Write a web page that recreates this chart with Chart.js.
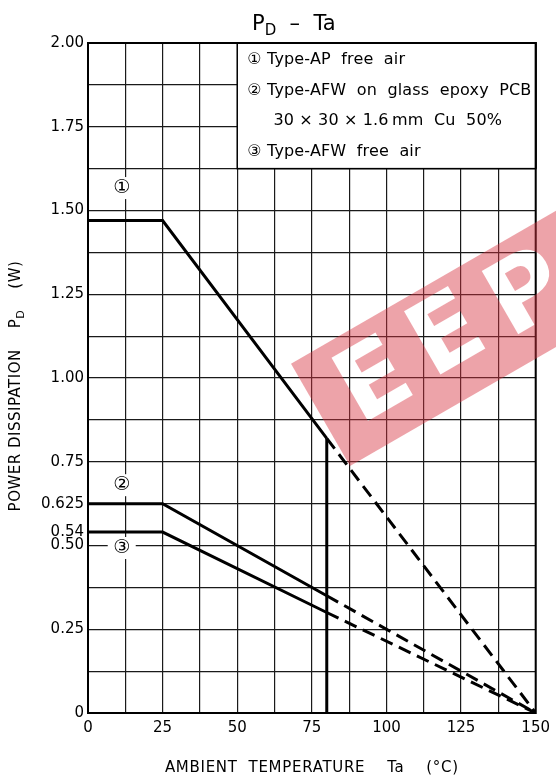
<!DOCTYPE html>
<html>
<head>
<meta charset="utf-8">
<script src="https://cdn.jsdelivr.net/npm/chart.js@4.4.1/dist/chart.umd.min.js"></script>
<style>
  html, body { margin: 0; padding: 0; background: #fff; }
</style>
</head>
<body>
<canvas id="pdChart" width="556" height="778"></canvas>
<script>
const FONT = "'DejaVu Sans', Verdana, sans-serif";

// Dados (Ta em °C, PD em W)
const ambientTemp = [0, 25, 80, 150];
const pdTypeAP = [1.47, 1.47, 0.82, 0];
const pdTypeAFWpcb = [0.625, 0.625, 0.35, 0];
const pdTypeAFWair = [0.54, 0.54, 0.30, 0];
const limitTemp = [80, 80];
const limitPd = [0, 0.82];

// Rótulos dos eixos
const yTickLabels = [0, 0.25, 0.5, 0.54, 0.625, 0.75, 1, 1.25, 1.5, 1.75, 2];
const xTickLabels = [0, 25, 50, 75, 100, 125, 150];
const legendLines = [
  "\u2460 Type-AP  free  air",
  "\u2461 Type-AFW  on  glass  epoxy  PCB",
  "     30 \u00d7 30 \u00d7 1.6\u2009mm  Cu  50%",
  "\u2462 Type-AFW  free  air"
];
const curveMarks = ["\u2460", "\u2461", "\u2462"];
const curveMarkAt = [[11.3, 1.567], [11.3, 0.68], [11.3, 0.4925]];

// Linhas de grade: a cada 12.5 °C e 0.125 W
const xGrid = [];
for (let i = 0; i <= 12; i++) xGrid.push(i * 12.5);
const yGrid = [];
for (let i = 0; i <= 16; i++) yGrid.push(i * 0.125);
yGrid.push(0.54);
yGrid.sort((a, b) => a - b);

function formatY(v) {
  if (v === 0) return "0";
  if (v === 0.625 || v === 0.54) return String(v);
  return v.toFixed(2);
}

function curve(values) {
  return ambientTemp.map((t, i) => ({ x: t, y: values[i] }));
}

const dashAfterLimit = {
  borderDash: (c) => (c.p0DataIndex >= 2 ? [13, 7] : undefined)
};

// Plugin para título, legenda, marcas e marca d'água
const decorPlugin = {
  id: "decor",
  afterDatasetsDraw(chart) {
    const ctx = chart.ctx;
    const area = chart.chartArea;
    const xs = chart.scales.x;
    const ys = chart.scales.y;

    // moldura
    ctx.save();
    ctx.strokeStyle = "#000";
    ctx.lineWidth = 2;
    ctx.strokeRect(area.left, area.top, area.right - area.left, area.bottom - area.top);

    // caixa da legenda
    const bx = xs.getPixelForValue(50);
    const by = ys.getPixelForValue(1.625);
    ctx.fillStyle = "#fff";
    ctx.fillRect(bx, area.top, area.right - bx, by - area.top);
    ctx.lineWidth = 1.5;
    ctx.strokeRect(bx, area.top, area.right - bx, by - area.top);
    ctx.lineWidth = 2;
    ctx.beginPath();
    ctx.moveTo(bx, area.top);
    ctx.lineTo(area.right, area.top);
    ctx.lineTo(area.right, by);
    ctx.stroke();

    ctx.fillStyle = "#000";
    ctx.font = "16px " + FONT;
    ctx.letterSpacing = "0.15px";
    ctx.textAlign = "left";
    ctx.textBaseline = "middle";
    legendLines.forEach((txt, i) => {
      ctx.fillText(txt, bx + 10, area.top + 17 + i * 30.5);
    });
    ctx.letterSpacing = "0px";

    // marcas das curvas
    ctx.font = "19px " + FONT;
    ctx.textAlign = "center";
    curveMarks.forEach((m, i) => {
      const px = xs.getPixelForValue(curveMarkAt[i][0]);
      const py = ys.getPixelForValue(curveMarkAt[i][1]);
      ctx.fillStyle = "#fff";
      ctx.fillRect(px - 14, py - 11, 28, 22);
      ctx.fillStyle = "#000";
      ctx.fillText(m, px, py);
    });
    ctx.restore();
  },
  afterDraw(chart) {
    const ctx = chart.ctx;
    const area = chart.chartArea;
    ctx.save();
    ctx.fillStyle = "#000";
    ctx.textBaseline = "alphabetic";

    // título
    let x = 252, y = 30;
    ctx.font = "21px " + FONT;
    ctx.textAlign = "left";
    ctx.fillText("P", x, y);
    x += ctx.measureText("P").width;
    ctx.font = "15px " + FONT;
    ctx.fillText("D", x, y + 5);
    x += ctx.measureText("D").width;
    ctx.font = "21px " + FONT;
    ctx.fillText("  \u2013  Ta", x, y);

    // título do eixo x
    ctx.font = "15px " + FONT;
    ctx.letterSpacing = "0.7px";
    ctx.textAlign = "center";
    ctx.fillText("AMBIENT  TEMPERATURE    Ta    (\u00b0C)", (area.left + area.right) / 2, 772);

    // título do eixo y
    ctx.letterSpacing = "0.5px";
    ctx.translate(20, 386);
    ctx.rotate(-Math.PI / 2);
    ctx.textAlign = "left";
    const p1 = "POWER DISSIPATION    P";
    const p3 = "    (W)";
    ctx.font = "15px " + FONT;
    const w1 = ctx.measureText(p1).width;
    const w3 = ctx.measureText(p3).width;
    ctx.font = "11px " + FONT;
    const w2 = ctx.measureText("D").width;
    let sx = -(w1 + w2 + w3) / 2;
    ctx.font = "15px " + FONT;
    ctx.fillText(p1, sx, 0);
    sx += w1;
    ctx.font = "11px " + FONT;
    ctx.fillText("D", sx, 4);
    sx += w2;
    ctx.font = "15px " + FONT;
    ctx.fillText(p3, sx, 0);
    ctx.restore();

    // marca d'água
    const wm = document.createElement("canvas");
    wm.width = chart.width;
    wm.height = chart.height;
    const w = wm.getContext("2d");
    w.translate(350, 466);
    w.rotate(-Math.PI / 6);
    w.fillStyle = "rgba(215, 50, 65, 0.45)";
    w.fillRect(0, -118, 420, 118);
    w.globalCompositeOperation = "destination-out";
    w.fillStyle = "#000";
    w.font = "bold 100px " + FONT;
    w.textAlign = "center";
    w.textBaseline = "middle";
    w.fillText("E", 63, -56);
    w.fillText("E", 149, -60);
    w.fillText("P", 239, -56);
    ctx.drawImage(wm, 0, 0);
  }
};

new Chart(document.getElementById("pdChart"), {
  type: "line",
  data: {
    datasets: [
      { data: curve(pdTypeAP), segment: dashAfterLimit },
      { data: curve(pdTypeAFWpcb), segment: dashAfterLimit },
      { data: curve(pdTypeAFWair), segment: dashAfterLimit },
      { data: limitTemp.map((t, i) => ({ x: t, y: limitPd[i] })) }
    ]
  },
  options: {
    responsive: false,
    animation: false,
    layout: { padding: { top: 43, right: 15, left: 0, bottom: 0 } },
    elements: {
      line: { borderColor: "#000", borderWidth: 3, tension: 0, fill: false },
      point: { radius: 0 }
    },
    plugins: {
      legend: { display: false },
      tooltip: { enabled: false }
    },
    scales: {
      x: {
        type: "linear",
        min: 0,
        max: 150,
        afterBuildTicks: (s) => { s.ticks = xGrid.map((v) => ({ value: v })); },
        afterFit: (s) => { s.height = 65; },
        grid: { color: "#1a1a1a", lineWidth: 1.2, drawTicks: false },
        border: { color: "#000", width: 2 },
        ticks: {
          autoSkip: false,
          maxRotation: 0,
          padding: 6,
          color: "#000",
          font: { family: FONT, size: 15 },
          callback: (v) => (xTickLabels.includes(v) ? String(v) : "")
        }
      },
      y: {
        type: "linear",
        min: 0,
        max: 2,
        afterBuildTicks: (s) => { s.ticks = yGrid.map((v) => ({ value: v })); },
        afterFit: (s) => { s.width = 88; },
        grid: {
          color: (c) => (c.tick && c.tick.value === 0.54 ? "rgba(0,0,0,0)" : "#1a1a1a"),
          lineWidth: 1.2,
          drawTicks: false
        },
        border: { color: "#000", width: 2 },
        ticks: {
          autoSkip: false,
          padding: 4,
          color: "#000",
          font: { family: FONT, size: 15 },
          callback: (v) => (yTickLabels.includes(v) ? formatY(v) : "")
        }
      }
    }
  },
  plugins: [decorPlugin]
});
</script>
</body>
</html>
